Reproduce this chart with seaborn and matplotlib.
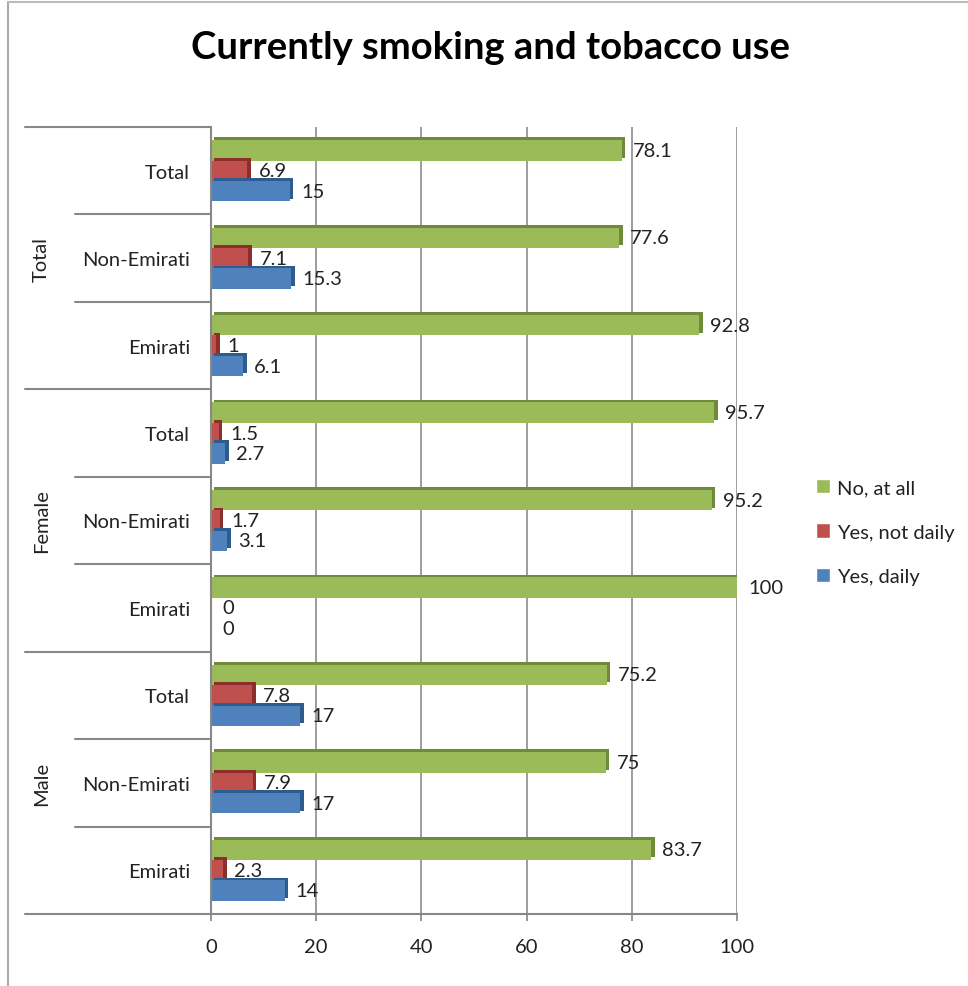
import matplotlib
matplotlib.use("Agg")
import matplotlib.pyplot as plt
import matplotlib.patheffects as pe
from matplotlib.lines import Line2D
import matplotlib.transforms as mtransforms
import seaborn as sns
import pandas as pd
import numpy as np

groups = ["Total", "Total", "Total", "Female", "Female", "Female", "Male", "Male", "Male"]
subcats = ["Total", "Non-Emirati", "Emirati"] * 3
series = ["No, at all", "Yes, not daily", "Yes, daily"]
no_at_all = [78.1, 77.6, 92.8, 95.7, 95.2, 100, 75.2, 75, 83.7]
yes_not_daily = [6.9, 7.1, 1, 1.5, 1.7, 0, 7.8, 7.9, 2.3]
yes_daily = [15, 15.3, 6.1, 2.7, 3.1, 0, 17, 17, 14]
colors = ["#9BBB59", "#C0504D", "#4F81BD"]
dark = ["#6E8A3A", "#8C2E2B", "#2E5C8E"]
xticks = [0, 20, 40, 60, 80, 100]

keys = [f"{g}|{s}" for g, s in zip(groups, subcats)]
rows = []
for vals, name in zip([no_at_all, yes_not_daily, yes_daily], series):
    for k, v in zip(keys, vals):
        rows.append({"cat": k, "value": v, "series": name})
df = pd.DataFrame(rows)

sns.set_theme(style="white")
plt.rcParams["font.family"] = ["Lato", "DejaVu Sans"]

fig = plt.figure(figsize=(9.68, 9.87), dpi=100)
W, H = 968, 987
ax = fig.add_axes([211 / W, 1 - 915 / H, (737 - 211) / W, (915 - 128) / H])

sns.barplot(data=df, y="cat", x="value", hue="series", hue_order=series,
            order=keys, palette=colors, orient="h", width=0.7, ax=ax,
            saturation=1, legend=True)

for i, cont in enumerate(ax.containers):
    for p in cont:
        p.set_edgecolor("none")
        p.set_path_effects([pe.SimplePatchShadow(offset=(2.5, 2), shadow_rgbFace=dark[i], alpha=1),
                            pe.Normal()])
    ax.bar_label(cont, labels=[f"{v:g}" for v in [no_at_all, yes_not_daily, yes_daily][i]],
                 padding=8, fontsize=14.5, color="#222222")

ax.set_xlim(0, 100)
ax.set_xticks(xticks)
ax.set_xticklabels([str(t) for t in xticks], fontsize=14.5, color="#222222")
ax.set_ylim(len(keys) - 0.5, -0.5)
ax.set_yticks(range(len(keys)))
ax.set_yticklabels(subcats, fontsize=14.5, color="#222222")
ax.tick_params(axis="y", length=0, pad=15)
ax.tick_params(axis="x", length=5, color="#888888", pad=12, bottom=True)
ax.set_xlabel("")
ax.set_ylabel("")
ax.grid(axis="x", color="#8C8C8C", linewidth=1.2)
ax.set_axisbelow(True)
for s in ["top", "right"]:
    ax.spines[s].set_visible(False)
for s in ["left", "bottom"]:
    ax.spines[s].set_color("#888888")
    ax.spines[s].set_linewidth(1.5)

trans = mtransforms.blended_transform_factory(ax.transAxes, ax.transData)
for yy in [-0.5, 2.5, 5.5, 8.5]:
    ax.add_line(Line2D([-0.354, 0], [yy, yy], transform=trans, color="#888888",
                       linewidth=1.5, clip_on=False))
for yy in [0.5, 1.5, 3.5, 4.5, 6.5, 7.5]:
    ax.add_line(Line2D([-0.259, 0], [yy, yy], transform=trans, color="#888888",
                       linewidth=1.5, clip_on=False))
for gi, gname in enumerate(["Total", "Female", "Male"]):
    ax.text(-0.322, gi * 3 + 1, gname, transform=trans, rotation=90, ha="center",
            va="center", fontsize=14.5, color="#222222")

leg = ax.legend(loc="center left", bbox_to_anchor=(798 / W, 1 - 533 / H),
                bbox_transform=fig.transFigure, frameon=False, fontsize=14.5,
                handlelength=0.7, handleheight=0.7, handletextpad=0.35, labelspacing=1.35)
for t in leg.get_texts():
    t.set_color("#222222")

fig.text(490 / W, 1 - 48 / H, "Currently smoking and tobacco use", ha="center",
         va="center", fontsize=27.5, fontweight="bold", color="black")

fig.add_artist(Line2D([8 / W, 8 / W], [0, 1 - 3 / H], transform=fig.transFigure,
                      color="#AAAAAA", linewidth=1.5))
fig.add_artist(Line2D([8 / W, 1], [1 - 3 / H, 1 - 3 / H], transform=fig.transFigure,
                      color="#BBBBBB", linewidth=1.5))

fig.savefig("out.png", dpi=100, facecolor="white")
